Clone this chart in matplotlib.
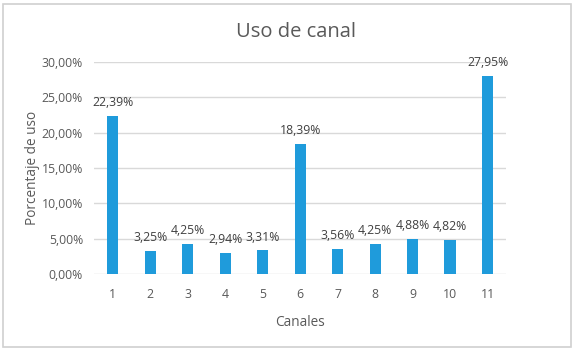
import matplotlib
matplotlib.use('Agg')
import matplotlib.pyplot as plt
from matplotlib.patches import Rectangle

canales = [1, 2, 3, 4, 5, 6, 7, 8, 9, 10, 11]
uso = [22.39, 3.25, 4.25, 2.94, 3.31, 18.39, 3.56, 4.25, 4.88, 4.82, 27.95]
yticks = [0, 5, 10, 15, 20, 25, 30]

plt.rcParams['font.family'] = ['Open Sans', 'DejaVu Sans']
gris = '#595959'

fig = plt.figure(figsize=(5.74, 3.52), dpi=100)
ax = fig.add_axes([0.164, 0.222, 0.718, 0.602])

# marco exterior del gráfico
fig.patches.append(Rectangle((0.006, 0.014), 0.988, 0.976, transform=fig.transFigure,
                             fill=False, edgecolor='#D0D0D0', linewidth=1.2))

ax.bar(canales, uso, width=0.3, color='#1F9BDB', zorder=3)
for c, v in zip(canales, uso):
    ax.annotate(f'{v:.2f}%'.replace('.', ','), (c, v), xytext=(0, 5),
                textcoords='offset points', ha='center', va='bottom',
                fontsize=8.8, color='#404040')

ax.set_xlim(0.5, 11.5)
ax.set_ylim(0, 30)
ax.set_xticks(canales)
ax.set_yticks(yticks)
ax.set_yticklabels([f'{t:.2f}%'.replace('.', ',') for t in yticks])
ax.tick_params(axis='x', length=0, labelsize=8.8, colors=gris, pad=10)
ax.tick_params(axis='y', length=0, labelsize=8.8, colors=gris, pad=8)
ax.grid(axis='y', color='#D9D9D9', linewidth=1, zorder=0)
for s in ax.spines.values():
    s.set_visible(False)

ax.set_xlabel('Canales', fontsize=9.8, color=gris, labelpad=10)
ax.set_ylabel('Porcentaje de uso', fontsize=9.8, color=gris, labelpad=1)
fig.text(0.515, 0.91, 'Uso de canal', ha='center', va='center', fontsize=14.5, color=gris)

plt.savefig('out.png', dpi=100)
